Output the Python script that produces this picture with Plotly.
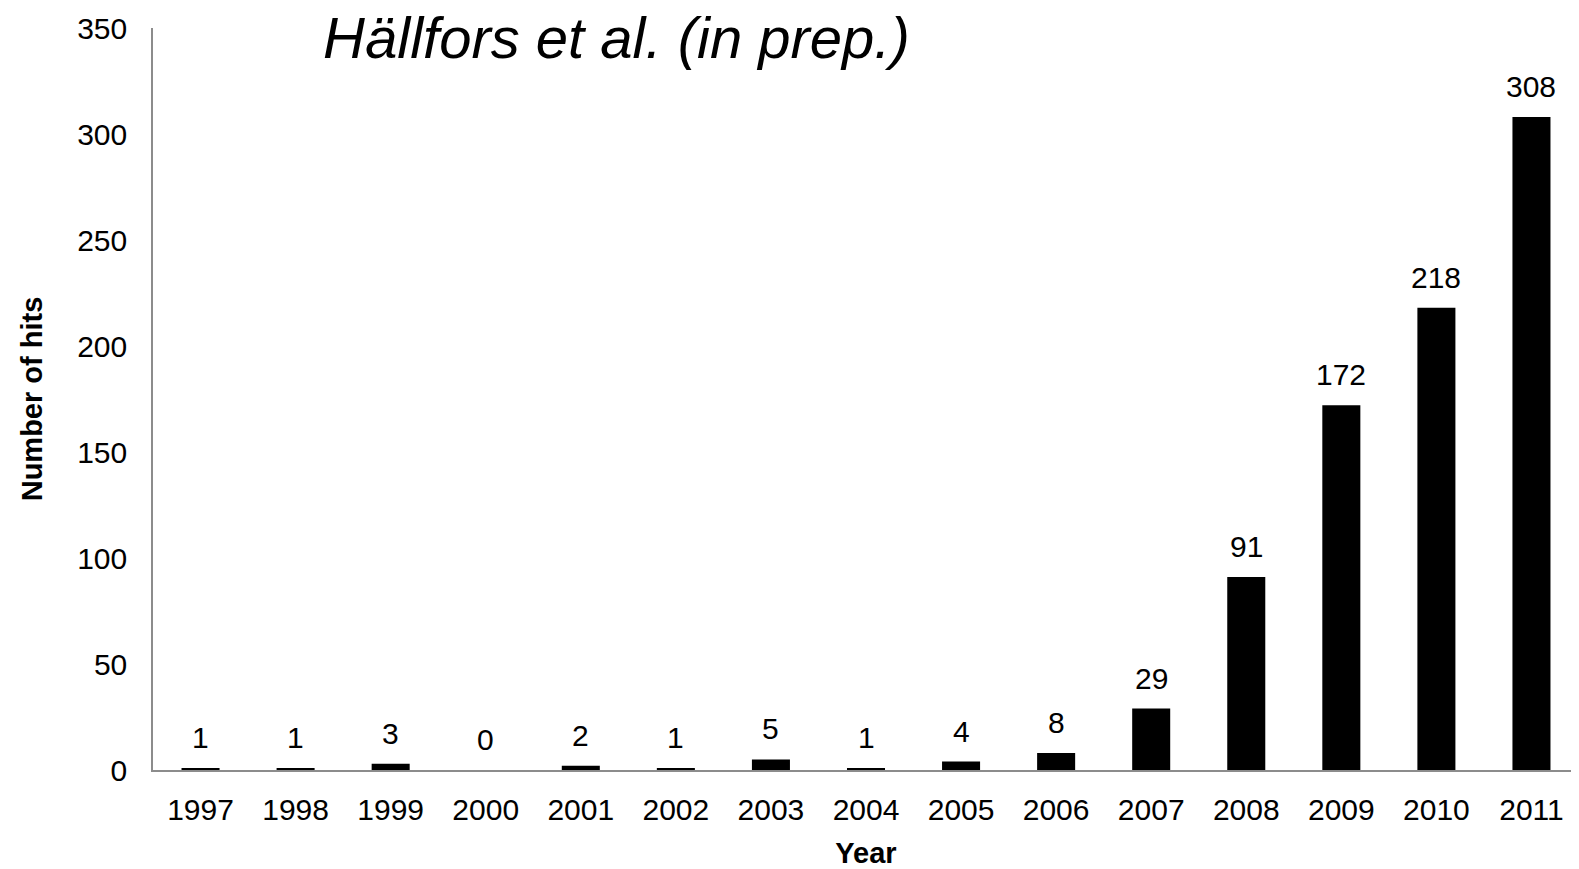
import plotly.graph_objects as go

years = ["1997", "1998", "1999", "2000", "2001", "2002", "2003", "2004",
         "2005", "2006", "2007", "2008", "2009", "2010", "2011"]
hits = [1, 1, 3, 0, 2, 1, 5, 1, 4, 8, 29, 91, 172, 218, 308]
y_ticks = [0, 50, 100, 150, 200, 250, 300, 350]

FONT = "Liberation Sans, Arial, sans-serif"

fig = go.Figure()
fig.add_trace(go.Bar(
    x=years, y=hits,
    marker=dict(color="#000000", line=dict(width=0)),
    width=0.4,
    showlegend=False,
))

for i, v in enumerate(hits):
    fig.add_annotation(
        x=i, y=v, text=str(v), showarrow=False,
        xanchor="center", yanchor="bottom", yshift=12,
        font=dict(family=FONT, size=30, color="#000000"),
    )

fig.update_layout(
    width=1571, height=861,
    margin=dict(l=145, r=0, t=20, b=99, autoexpand=False),
    paper_bgcolor="#ffffff", plot_bgcolor="#ffffff",
    font=dict(family=FONT, color="#000000"),
    bargap=0.6,
    title=dict(
        text="<i>Hällfors et al. (in prep.)</i>",
        xref="paper", x=0.325, xanchor="center",
        yref="container", y=0.966, yanchor="middle",
        font=dict(family=FONT, size=58, color="#000000"),
    ),
)
fig.update_xaxes(
    type="category", range=[-0.5, len(years) - 0.5], automargin=False,
    showline=True, linecolor="#8c8c8c", linewidth=1.5,
    showgrid=False, zeroline=False, ticks="",
    tickfont=dict(family=FONT, size=30, color="#000000"),
    ticklabelstandoff=12,
    title=dict(text="<b>Year</b>", font=dict(family=FONT, size=29, color="#000000"), standoff=20),
)
fig.update_yaxes(
    range=[0, 350], tickvals=y_ticks, automargin=False,
    showline=True, linecolor="#8c8c8c", linewidth=1.5,
    showgrid=False, zeroline=False, ticks="",
    tickfont=dict(family=FONT, size=30, color="#000000"),
    ticklabelstandoff=18,
    title=dict(text="<b>Number of hits</b>", font=dict(family=FONT, size=29, color="#000000"), standoff=26),
)

fig.write_html("out.html")
